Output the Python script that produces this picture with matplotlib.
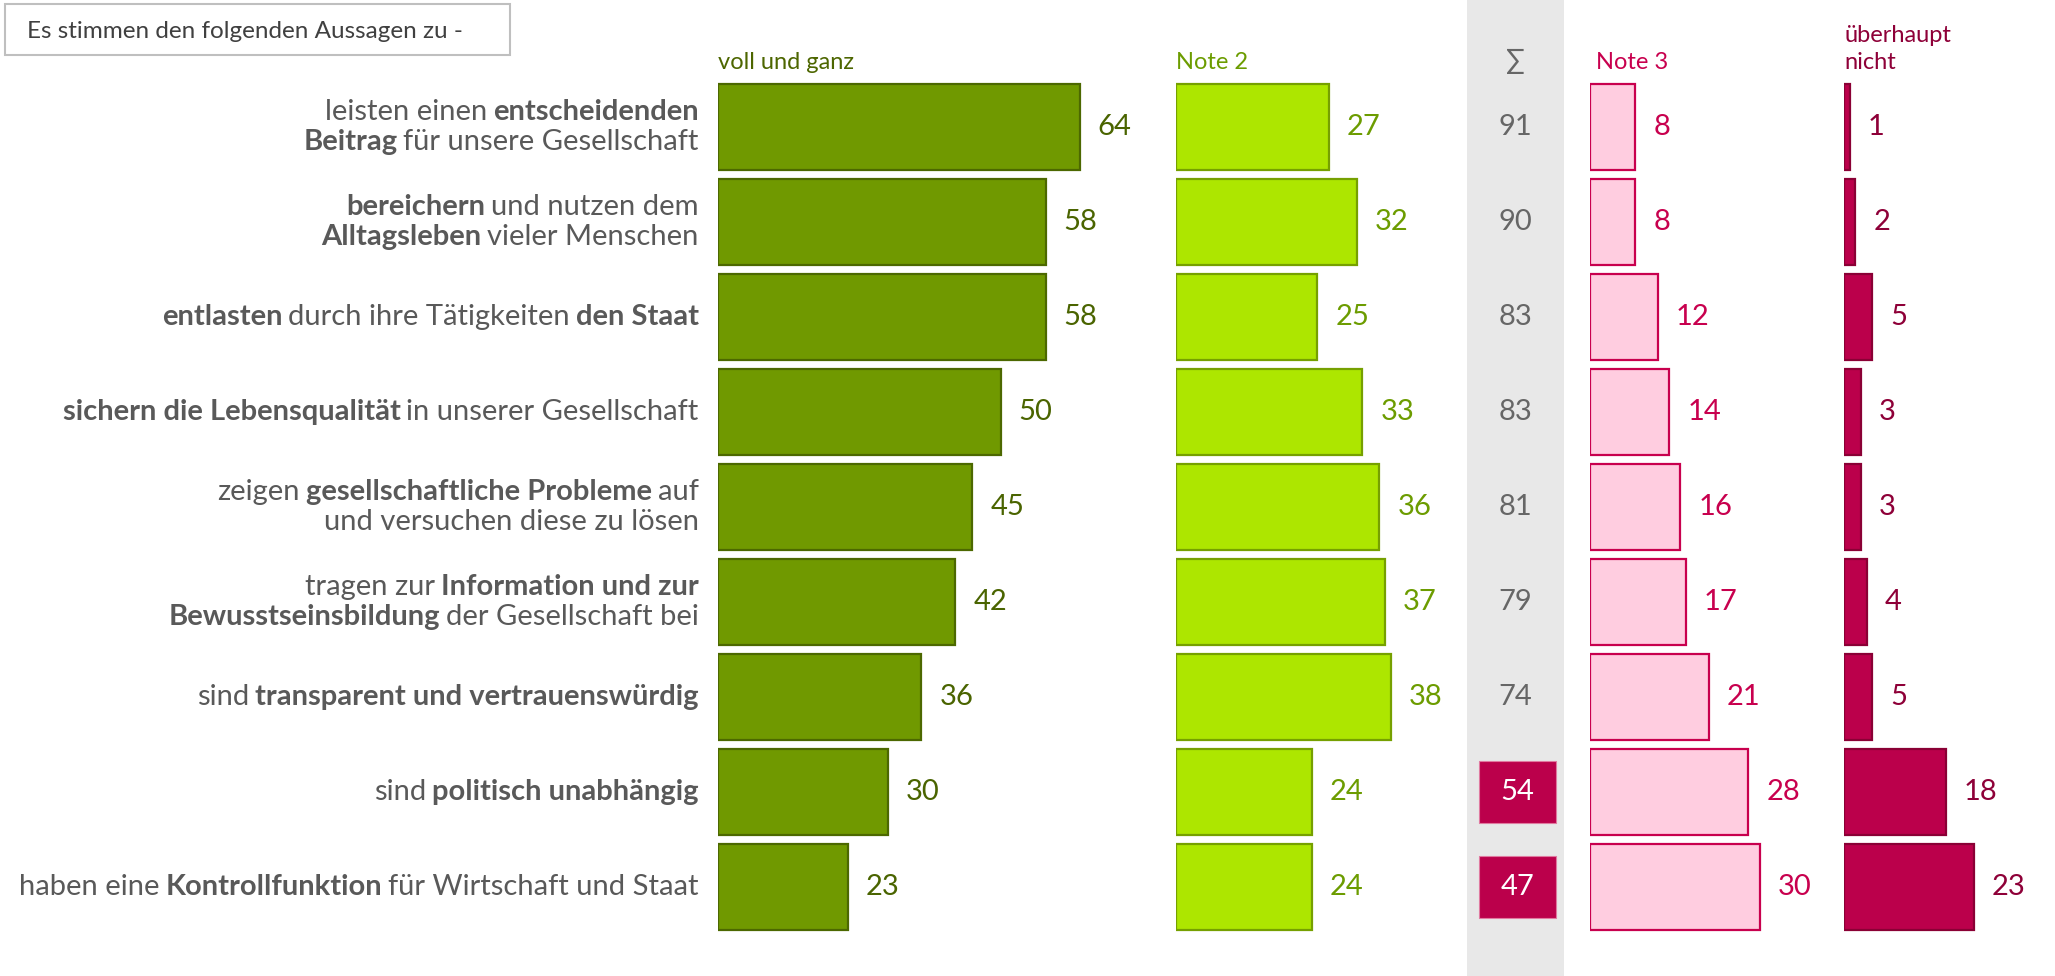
import matplotlib
matplotlib.use("Agg")
import matplotlib.pyplot as plt
from matplotlib.patches import Rectangle
from matplotlib.offsetbox import TextArea, HPacker, VPacker, AnnotationBbox

plt.rcParams['font.family'] = ['Lato', 'DejaVu Sans']

# statements, split in lines and (text, bold) pieces
statements = [
    [[("leisten einen", False), ("entscheidenden", True)],
     [("Beitrag", True), ("für unsere Gesellschaft", False)]],
    [[("bereichern", True), ("und nutzen dem", False)],
     [("Alltagsleben", True), ("vieler Menschen", False)]],
    [[("entlasten", True), ("durch ihre Tätigkeiten", False), ("den Staat", True)]],
    [[("sichern die Lebensqualität", True), ("in unserer Gesellschaft", False)]],
    [[("zeigen", False), ("gesellschaftliche Probleme", True), ("auf", False)],
     [("und versuchen diese zu lösen", False)]],
    [[("tragen zur", False), ("Information und zur", True)],
     [("Bewusstseinsbildung", True), ("der Gesellschaft bei", False)]],
    [[("sind", False), ("transparent und vertrauenswürdig", True)]],
    [[("sind", False), ("politisch unabhängig", True)]],
    [[("haben eine", False), ("Kontrollfunktion", True), ("für Wirtschaft und Staat", False)]],
]
voll = [64, 58, 58, 50, 45, 42, 36, 30, 23]
note2 = [27, 32, 25, 33, 36, 37, 38, 24, 24]
summe = [91, 90, 83, 83, 81, 79, 74, 54, 47]
note3 = [8, 8, 12, 14, 16, 17, 21, 28, 30]
nicht = [1, 2, 5, 3, 3, 4, 5, 18, 23]
headers = ["voll und ganz", "Note 2", "Note 3", "überhaupt\nnicht"]
SUM_LIMIT = 60

W, H = 2055, 976
PX_PER_UNIT = 5.65
ROW_TOP, ROW_BOT = 79.5, 934.5
FS = 21
HFS = 17
TXT = '#595959'

fig = plt.figure(figsize=(W / 100, H / 100), dpi=100)
n = len(voll)
ypos = list(range(n))


def panel(left_px, units=70):
    ax = fig.add_axes([left_px / W, 1 - ROW_BOT / H,
                       units * PX_PER_UNIT / W, (ROW_BOT - ROW_TOP) / H])
    ax.set_xlim(0, units)
    ax.set_ylim(n - 0.5, -0.5)
    ax.axis('off')
    return ax


# grey band for the sum column
band_l, band_r = 1467, 1564
fig.patches.append(Rectangle((band_l / W, 0), (band_r - band_l) / W, 1,
                             transform=fig.transFigure, fc='#e8e8e8', ec='none', zorder=-1))

specs = [
    (718, voll, '#709900', '#4c6800', '#4a6400', '#4d6600'),
    (1176, note2, '#ade600', '#76a000', '#6c9c00', '#6c9c00'),
    (1590, note3, '#ffcde0', '#c8004e', '#c8004e', '#c8004e'),
    (1844, nicht, '#bb004b', '#8a0035', '#8e0038', '#8e0038'),
]
axes = []
for (left, vals, fc, ec, lc, hc), head in zip(specs, headers):
    ax = panel(left)
    axes.append(ax)
    ax.barh(ypos, vals, height=0.91, color=fc, edgecolor=ec, linewidth=1.6)
    for y, v in zip(ypos, vals):
        ax.annotate(str(v), (v, y), xytext=(13, 0), textcoords='offset points',
                    va='center', ha='left', fontsize=FS, color=lc)
    ax.annotate(head, (0, -0.5), xytext=(4 if left > 1500 and left < 1800 else 0, 5),
                textcoords='offset points', va='bottom', ha='left',
                fontsize=HFS, color=hc, linespacing=1.35)

# sum column
sax = fig.add_axes([band_l / W, 1 - ROW_BOT / H, (band_r - band_l) / W, (ROW_BOT - ROW_TOP) / H])
sax.set_xlim(0, 1)
sax.set_ylim(n - 0.5, -0.5)
sax.axis('off')
for y, s in zip(ypos, summe):
    if s < SUM_LIMIT:
        sax.barh(y, 0.79, left=0.125, height=0.66, color='#bb004b', edgecolor='#e07aa0', linewidth=0.8)
        sax.text(0.52, y, str(s), ha='center', va='center', fontsize=FS, color='white')
    else:
        sax.text(0.5, y, str(s), ha='center', va='center', fontsize=FS, color='#666666')
sax.annotate("∑", (0.5, -0.5), xytext=(0, 4), textcoords='offset points',
             ha='center', va='bottom', fontsize=20, color='#666666')

# row labels with mixed bold pieces
ax0 = axes[0]
for y, lines in zip(ypos, statements):
    rows = []
    for line in lines:
        parts = [TextArea(t, textprops=dict(fontsize=FS, color=TXT,
                                            fontweight='bold' if b else 'normal'))
                 for t, b in line]
        rows.append(HPacker(children=parts, align='baseline', pad=0, sep=4.2))
    box = VPacker(children=rows, align='right', pad=0, sep=3)
    ab = AnnotationBbox(box, (0, y), xybox=(-14, 0), boxcoords='offset points',
                        box_alignment=(1, 0.5), frameon=False, pad=0,
                        annotation_clip=False)
    ax0.add_artist(ab)

# title box
fig.patches.append(Rectangle((5 / W, 1 - 55 / H), 505 / W, 51 / H, transform=fig.transFigure,
                             fc='white', ec='#bfbfbf', lw=1.5))
fig.text(27 / W, 1 - 31 / H, "Es stimmen den folgenden Aussagen zu -", ha='left', va='center',
         fontsize=17.5, color='#404040')

fig.savefig("out.png", dpi=100)
